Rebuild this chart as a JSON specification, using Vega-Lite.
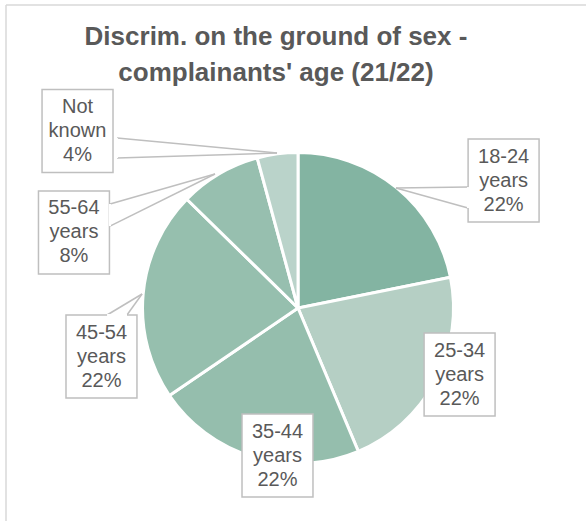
{
  "$schema": "https://vega.github.io/schema/vega-lite/v6.json",
  "width": 580,
  "height": 516,
  "autosize": "none",
  "padding": {"left": 6, "top": 5, "right": 0, "bottom": 0},
  "background": "white",
  "config": {"view": {"stroke": null}, "font": "Liberation Sans"},
  "title": {
    "text": ["Discrim. on the ground of sex -", "complainants' age (21/22)"],
    "fontSize": 26, "fontWeight": "bold", "color": "#595959", "font": "Liberation Sans",
    "lineHeight": 36, "anchor": "middle", "frame": "group", "orient": "top",
    "baseline": "alphabetic", "offset": -45, "dx": -20, "dy": 58
  },
  "datasets": {
    "slices": [
      {"age": "18-24", "count": 31},
      {"age": "25-34", "count": 31},
      {"age": "35-44", "count": 31},
      {"age": "45-54", "count": 31},
      {"age": "55-64", "count": 12},
      {"age": "Not known", "count": 6}
    ],
    "labels": [
      {"age": "18-24", "text": "18-24\nyears\n22%", "lx": 132.2, "ly": 82.0, "tx": 63.0, "ty": 77.2, "b1x": 109.3, "b1y": 77.8, "b2x": 109.3, "b2y": 64.3},
      {"age": "25-34", "text": "25-34\nyears\n22%", "lx": 103.9, "ly": -42.8},
      {"age": "35-44", "text": "35-44\nyears\n22%", "lx": -13.2, "ly": -94.9},
      {"age": "45-54", "text": "45-54\nyears\n22%", "lx": -126.4, "ly": -31.2, "tx": -100.3, "ty": 9.0, "b1x": -122.8, "b1y": -4.5, "b2x": -110.0, "b2y": -4.5},
      {"age": "55-64", "text": "55-64\nyears\n8%", "lx": -144.1, "ly": 48.6, "tx": -53.4, "ty": 86.2, "b1x": -120.9, "b1y": 66.9, "b2x": -120.9, "b2y": 52.7},
      {"age": "Not known", "text": "Not\nknown\n4%", "lx": -141.8, "ly": 113.8, "tx": -13.5, "ty": 99.7, "b1x": -116.4, "b1y": 109.3, "b2x": -116.4, "b2y": 96.5}
    ]
  },
  "layer": [
    {
      "data": {"values": [{}]},
      "mark": {"type": "rule", "color": "#d9d9d9", "strokeWidth": 1.5},
      "encoding": {
        "x": {"datum": -187.8, "type": "quantitative", "scale": {"domain": [-187.8, 185.2], "nice": false, "zero": false}, "axis": null}
      }
    },
    {
      "data": {"values": [{}]},
      "mark": {"type": "rule", "color": "#d9d9d9", "strokeWidth": 1.5},
      "encoding": {
        "y": {"datum": 194.9, "type": "quantitative", "scale": {"domain": [-137.0, 194.9], "nice": false, "zero": false}, "axis": null}
      }
    },
    {
      "data": {"name": "slices"},
      "mark": {"type": "arc", "outerRadius": 155.5, "stroke": "white", "strokeWidth": 3},
      "encoding": {
        "theta": {"field": "count", "type": "quantitative", "stack": true},
        "color": {
          "field": "age", "type": "nominal", "legend": null,
          "scale": {
            "domain": ["18-24", "25-34", "35-44", "45-54", "55-64", "Not known"],
            "range": ["#83b4a2", "#b5cfc4", "#95bead", "#96bfae", "#97bfaf", "#bad3ca"]
          }
        },
        "x": {"datum": 0, "type": "quantitative", "scale": {"domain": [-187.8, 185.2], "nice": false, "zero": false}, "axis": null},
        "y": {"datum": 0, "type": "quantitative", "scale": {"domain": [-137.0, 194.9], "nice": false, "zero": false}, "axis": null}
      }
    },
    {
      "data": {"name": "labels"},
      "transform": [{"filter": "isValid(datum.tx)"}],
      "mark": {"type": "rule", "color": "#bfbfbf", "strokeWidth": 1.5},
      "encoding": {
        "x": {"field": "tx", "type": "quantitative", "scale": {"domain": [-187.8, 185.2], "nice": false, "zero": false}, "axis": null},
        "y": {"field": "ty", "type": "quantitative", "scale": {"domain": [-137.0, 194.9], "nice": false, "zero": false}, "axis": null},
        "x2": {"field": "b1x"},
        "y2": {"field": "b1y"}
      }
    },
    {
      "data": {"name": "labels"},
      "transform": [{"filter": "isValid(datum.tx)"}],
      "mark": {"type": "rule", "color": "#bfbfbf", "strokeWidth": 1.5},
      "encoding": {
        "x": {"field": "tx", "type": "quantitative", "scale": {"domain": [-187.8, 185.2], "nice": false, "zero": false}, "axis": null},
        "y": {"field": "ty", "type": "quantitative", "scale": {"domain": [-137.0, 194.9], "nice": false, "zero": false}, "axis": null},
        "x2": {"field": "b2x"},
        "y2": {"field": "b2y"}
      }
    },
    {
      "data": {"name": "labels"},
      "mark": {"type": "point", "shape": "M-0.855,-1H0.855V1H-0.855Z", "size": 6889, "filled": true, "fill": "white", "stroke": "#bfbfbf", "strokeWidth": 1.5, "opacity": 1},
      "encoding": {
        "x": {"field": "lx", "type": "quantitative", "scale": {"domain": [-187.8, 185.2], "nice": false, "zero": false}, "axis": null},
        "y": {"field": "ly", "type": "quantitative", "scale": {"domain": [-137.0, 194.9], "nice": false, "zero": false}, "axis": null}
      }
    },
    {
      "data": {"name": "labels"},
      "transform": [{"filter": "isValid(datum.tx)"}],
      "mark": {"type": "rule", "color": "white", "strokeWidth": 2},
      "encoding": {
        "x": {"field": "b1x", "type": "quantitative", "scale": {"domain": [-187.8, 185.2], "nice": false, "zero": false}, "axis": null},
        "y": {"field": "b1y", "type": "quantitative", "scale": {"domain": [-137.0, 194.9], "nice": false, "zero": false}, "axis": null},
        "x2": {"field": "b2x"},
        "y2": {"field": "b2y"}
      }
    },
    {
      "data": {"name": "labels"},
      "mark": {"type": "text", "lineBreak": "\n", "fontSize": 20, "lineHeight": 24, "dy": -24, "color": "#595959", "align": "center", "baseline": "middle", "font": "Liberation Sans"},
      "encoding": {
        "x": {"field": "lx", "type": "quantitative", "scale": {"domain": [-187.8, 185.2], "nice": false, "zero": false}, "axis": null},
        "y": {"field": "ly", "type": "quantitative", "scale": {"domain": [-137.0, 194.9], "nice": false, "zero": false}, "axis": null},
        "text": {"field": "text"}
      }
    }
  ]
}
